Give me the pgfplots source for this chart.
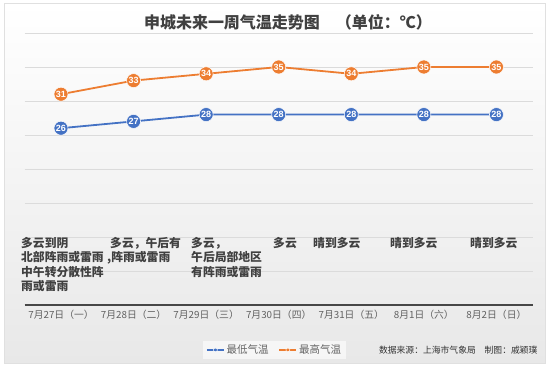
\documentclass[border=0pt]{standalone}
\usepackage{fontspec}
\setmainfont{Noto Sans CJK SC}
\newfontfamily\numfont{Liberation Sans}
\usepackage{pgfplots}
\pgfplotsset{compat=1.18}
\definecolor{cblue}{HTML}{4472C4}
\definecolor{corange}{HTML}{ED7D31}
\definecolor{txt}{HTML}{404040}
\begin{document}
\begin{tikzpicture}[x=1pt,y=1pt]
\path[use as bounding box] (0,0) rectangle (550,367);
\shade[top color=white, bottom color=black!9, draw=black!12] (4,4) rectangle (545,364);
\node[text=txt] at (288,345) {\bfseries\fontsize{16}{16}\selectfont 申城未来一周气温走势图\quad （单位：℃）};
\begin{axis}[
  at={(61pt,62pt)}, anchor=origin,
  scale only axis, width=508pt, height=272pt,
  xmin=-0.5, xmax=6.5, ymin=0, ymax=40,
  axis line style={draw=none},
  ytick={0,5,...,40}, yticklabels={}, ymajorgrids,
  grid style={black!14, line width=0.6pt},
  major tick length=0pt,
  xtick={0,...,6},
  xticklabels={7月27日（一）,7月28日（二）,7月29日（三）,7月30日（四）,7月31日（五）,8月1日（六）,8月2日（日）},
  xticklabel style={font=\fontsize{9.8}{10}\selectfont, text=black!62, yshift=-2pt},
  clip=false,
  legend style={at={(0.492,-0.165)}, anchor=center, draw=none, fill=white, fill opacity=0.6, text opacity=1,
    font=\fontsize{10.5}{11}\selectfont, text=black!60, legend columns=2,
    /tikz/every even column/.append style={column sep=8pt}},
  legend image code/.code={\draw[#1, mark size=2pt, line width=1.4pt, mark repeat=2, mark phase=2] plot coordinates {(0cm,0cm) (0.3cm,0cm) (0.6cm,0cm)};},
  nodes near coords,
  /pgf/number format/assume math mode=true,
  every node near coord/.append style={anchor=center, text=white, font=\numfont\bfseries\fontsize{9}{9}\selectfont},
]
\draw[black!72, line width=1.5pt] (axis cs:-0.5,0) -- (axis cs:6.5,0);
\addplot[cblue, line width=1.8pt, mark=*, mark size=7pt, mark options={fill=cblue, draw=white, line width=0.5pt}]
 coordinates {(0,26) (1,27) (2,28) (3,28) (4,28) (5,28) (6,28)};
\addlegendentry{最低气温}
\addplot[corange, line width=1.8pt, mark=*, mark size=7pt, mark options={fill=corange, draw=white, line width=0.5pt}]
 coordinates {(0,31) (1,33) (2,34) (3,35) (4,34) (5,35) (6,35)};
\addlegendentry{最高气温}
\end{axis}
\begin{scope}[every node/.style={anchor=north west, align=left, text=txt, font=\bfseries\fontsize{11.8}{14.5}\selectfont, inner sep=0pt}]
\node at (21,130) {多云到阴\\北部阵雨或雷雨\\中午转分散性阵\\雨或雷雨};
\node at (107,130) {\hspace{3pt}多云，午后有\\,阵雨或雷雨};
\node at (191,130) {多云，\\午后局部地区\\有阵雨或雷雨};
\node at (273,130) {多云};
\node at (313,130) {晴到多云};
\node at (390,130) {晴到多云};
\node at (470,130) {晴到多云};
\end{scope}
\node[anchor=east, text=black!80, font=\fontsize{8.8}{9}\selectfont] at (541,17) {数据来源：上海市气象局\quad 制图：戚颖璞};
\end{tikzpicture}
\end{document}
